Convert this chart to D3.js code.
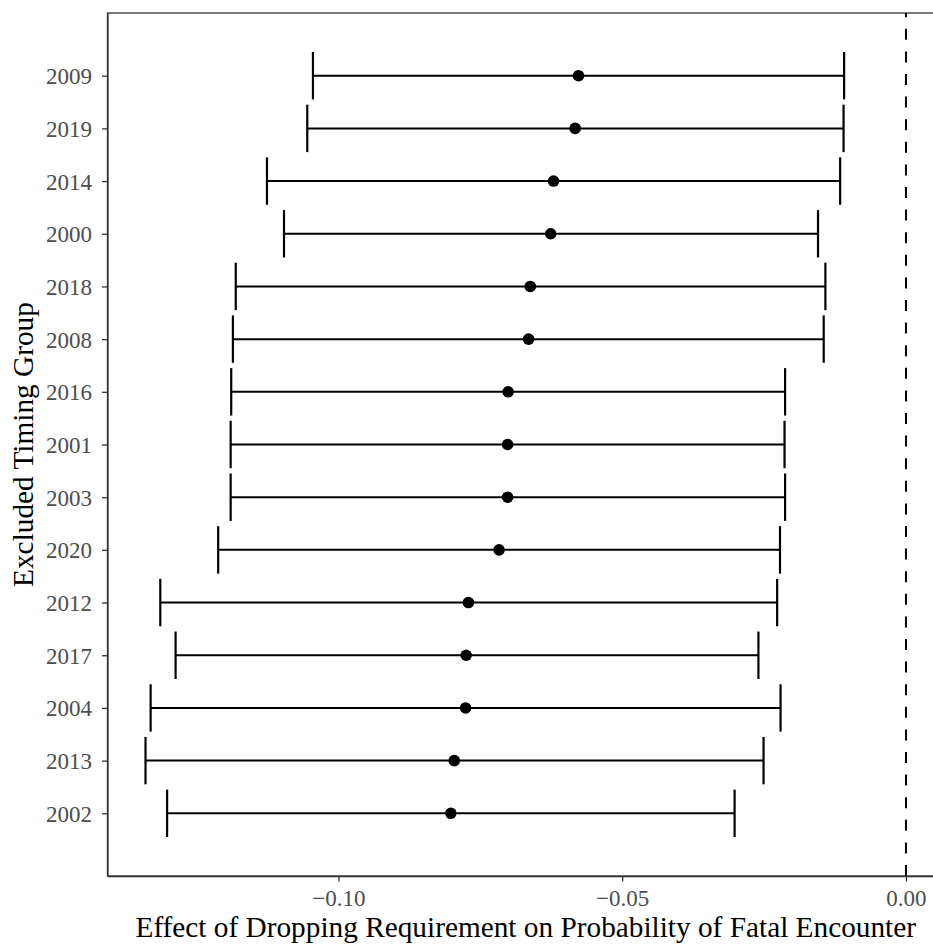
<!DOCTYPE html>
<html>
<head>
<meta charset="utf-8">
<script src="https://cdn.jsdelivr.net/npm/d3@7"></script>
<style>
  body { margin: 0; background: #fff; }
  svg { display: block; }
</style>
</head>
<body>
<svg id="chart" width="933" height="945"></svg>
<script>
// Excluded timing groups, top to bottom
const groups = ["2009", "2019", "2014", "2000", "2018", "2008", "2016", "2001",
                "2003", "2020", "2012", "2017", "2004", "2013", "2002"];
const estimates = [-0.0577, -0.0583, -0.0621, -0.0626, -0.0662, -0.0665, -0.0701, -0.0702,
                   -0.0702, -0.0717, -0.0771, -0.0775, -0.0776, -0.0796, -0.0802];
const lower = [-0.1045, -0.1055, -0.1126, -0.1096, -0.1181, -0.1186, -0.1189, -0.1190,
               -0.1190, -0.1212, -0.1314, -0.1287, -0.1331, -0.1340, -0.1302];
const upper = [-0.0109, -0.0110, -0.0116, -0.0155, -0.0142, -0.0145, -0.0213, -0.0214,
               -0.0213, -0.0222, -0.0227, -0.0260, -0.0221, -0.0251, -0.0302];
const xTicks = [-0.10, -0.05, 0.00];

const rows = groups.map((g, i) => ({ g, est: estimates[i], lo: lower[i], hi: upper[i] }));

const margin = { top: 13, left: 107.5, bottomY: 876, rightX: 944 };
const svg = d3.select("#chart");

const x = d3.scaleLinear()
    .domain([-0.1407, 0.0067])
    .range([margin.left, margin.rightX]);

const y = d3.scalePoint()
    .domain(groups)
    .range([margin.top, margin.bottomY])
    .padding(1.19);

const capHalf = y.step() * 0.45;
const ink = "#000000";
const axisCol = "#333333";
const font = "'Liberation Serif', 'Times New Roman', serif";

// panel outline (right edge falls outside the picture)
svg.append("rect")
    .attr("x", margin.left)
    .attr("y", margin.top)
    .attr("width", margin.rightX - margin.left)
    .attr("height", margin.bottomY - margin.top)
    .attr("fill", "none")
    .attr("stroke", axisCol)
    .attr("stroke-width", 1.3);

// reference line at zero
svg.append("line")
    .attr("x1", x(0)).attr("x2", x(0))
    .attr("y1", margin.bottomY).attr("y2", margin.top)
    .attr("stroke", ink)
    .attr("stroke-width", 2)
    .attr("stroke-dasharray", "11,11.6");

// error bars
const bars = svg.append("g").selectAll("g")
    .data(rows)
    .join("g");

bars.append("line")
    .attr("x1", d => x(d.lo)).attr("x2", d => x(d.hi))
    .attr("y1", d => y(d.g)).attr("y2", d => y(d.g))
    .attr("stroke", ink).attr("stroke-width", 2);

bars.append("line")
    .attr("x1", d => x(d.lo)).attr("x2", d => x(d.lo))
    .attr("y1", d => y(d.g) - capHalf).attr("y2", d => y(d.g) + capHalf)
    .attr("stroke", ink).attr("stroke-width", 2.2);

bars.append("line")
    .attr("x1", d => x(d.hi)).attr("x2", d => x(d.hi))
    .attr("y1", d => y(d.g) - capHalf).attr("y2", d => y(d.g) + capHalf)
    .attr("stroke", ink).attr("stroke-width", 2.2);

bars.append("circle")
    .attr("cx", d => x(d.est))
    .attr("cy", d => y(d.g))
    .attr("r", 5.8)
    .attr("fill", ink);

// x axis
const xAxis = svg.append("g")
    .attr("transform", `translate(0,${margin.bottomY})`)
    .call(d3.axisBottom(x).tickValues(xTicks).tickSizeInner(5.5).tickSizeOuter(0).tickPadding(8)
        .tickFormat(d => d3.format(".2f")(d).replace("-", "\u2212")));

// y axis
const yAxis = svg.append("g")
    .attr("transform", `translate(${margin.left},0)`)
    .call(d3.axisLeft(y).tickSizeInner(5.5).tickSizeOuter(0).tickPadding(10));

[xAxis, yAxis].forEach(a => {
    a.select(".domain").attr("stroke", axisCol).attr("stroke-width", 1.3);
    a.selectAll(".tick line").attr("stroke", axisCol).attr("stroke-width", 1.3);
    a.selectAll(".tick text")
        .attr("fill", "#4d4d4d")
        .style("font-family", font)
        .style("font-size", "23px");
});
yAxis.selectAll(".tick text").attr("dy", "0.35em");

// axis titles
svg.append("text")
    .attr("x", (margin.left + margin.rightX) / 2)
    .attr("y", 937)
    .attr("text-anchor", "middle")
    .style("font-family", font)
    .style("font-size", "29.3px")
    .attr("fill", ink)
    .text("Effect of Dropping Requirement on Probability of Fatal Encounter");

svg.append("text")
    .attr("transform", `translate(33,${(margin.top + margin.bottomY) / 2}) rotate(-90)`)
    .attr("text-anchor", "middle")
    .style("font-family", font)
    .style("font-size", "29.3px")
    .attr("fill", ink)
    .text("Excluded Timing Group");
</script>
</body>
</html>
